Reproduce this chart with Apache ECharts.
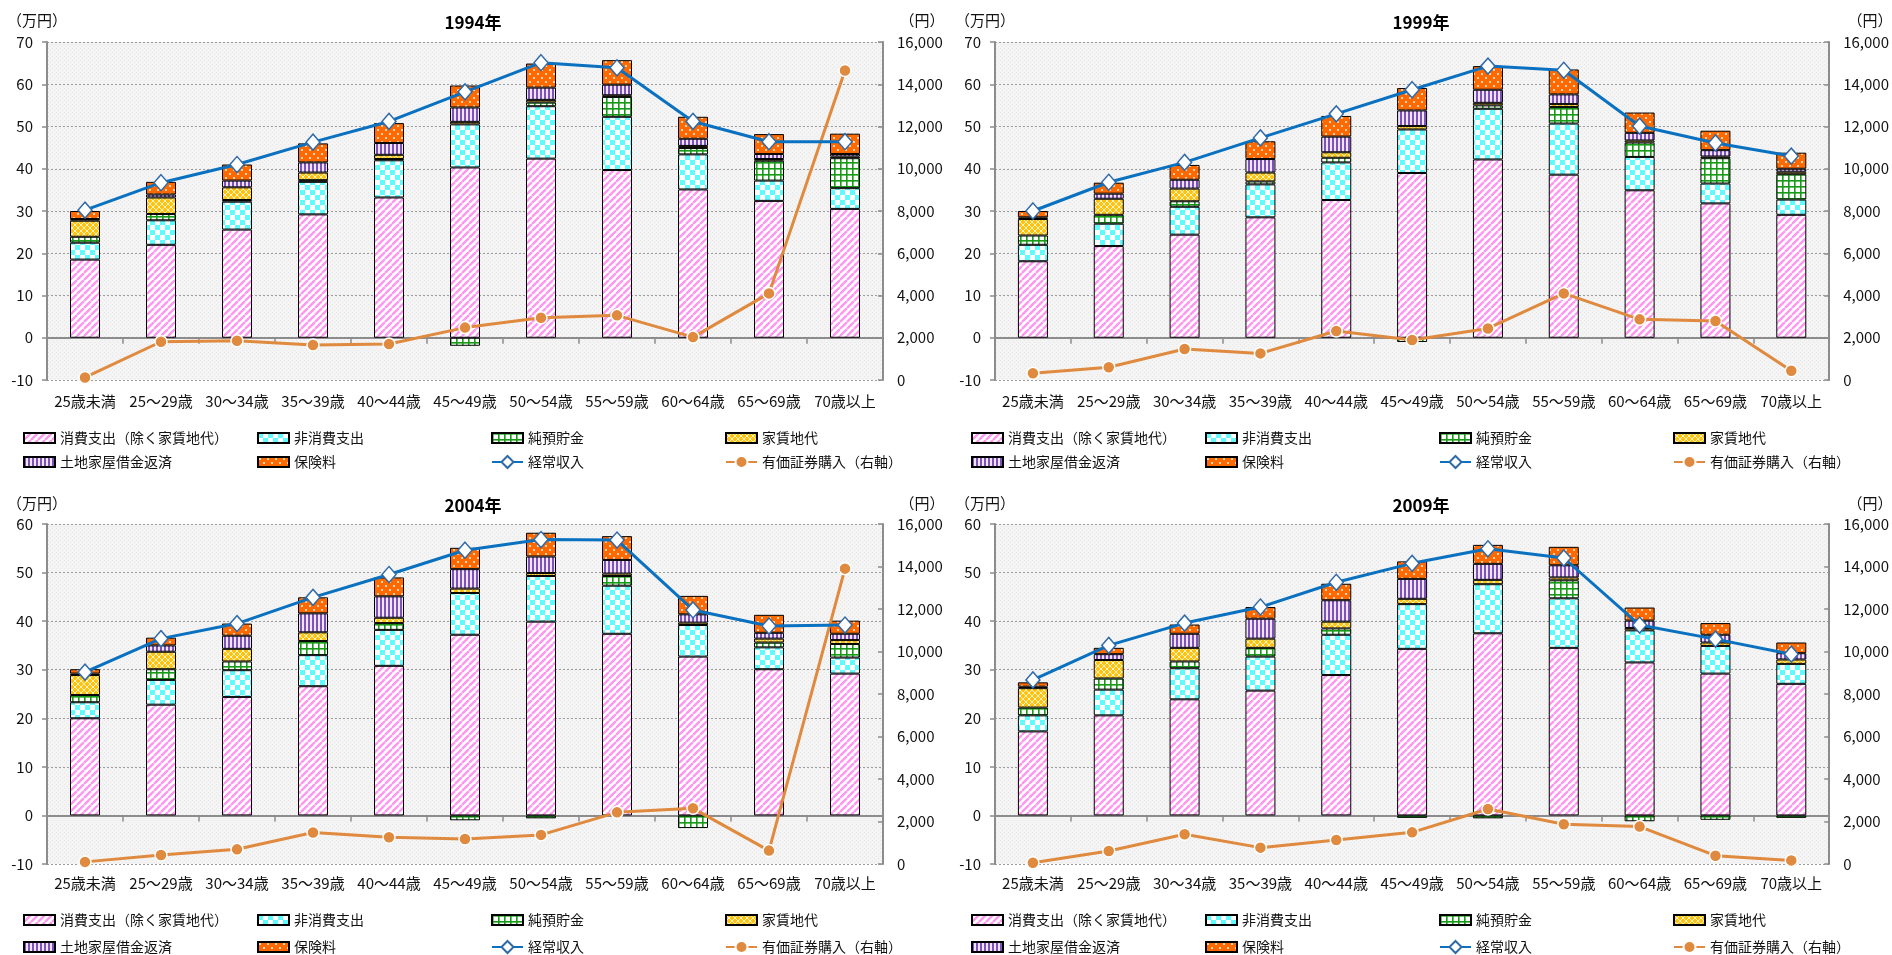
<!DOCTYPE html>
<html>
<head>
<meta charset="utf-8">
<script src="https://cdn.jsdelivr.net/npm/echarts@6/dist/echarts.min.js"></script>
<style>
  html, body { margin: 0; padding: 0; background: #ffffff; }
  #chart { width: 1892px; height: 955px; }
</style>
</head>
<body>
<div id="chart"></div>
<script>
// ---- categories and tick labels ----
const categories = ['25歳未満', '25～29歳', '30～34歳', '35～39歳', '40～44歳', '45～49歳',
  '50～54歳', '55～59歳', '60～64歳', '65～69歳', '70歳以上'];
const yearTitles = ['1994年', '1999年', '2004年', '2009年'];
const leftAxisMax = [70, 70, 60, 60];
const leftAxisMin = -10;
const rightAxisMax = 16000;

// ---- 1994 (万円 / 円) ----
const consumption1994 = [18.5, 22.0, 25.6, 29.2, 33.2, 40.3, 42.4, 39.7, 35.1, 32.4, 30.5];
const nonConsumption1994 = [4.0, 5.8, 6.6, 7.7, 8.8, 10.2, 12.4, 12.6, 8.3, 4.8, 4.9];
const savings1994 = [1.4, 1.5, 0.4, 0.4, 0.3, -1.9, 0.9, 4.7, 1.5, 4.7, 7.1];
const rent1994 = [3.8, 3.9, 3.0, 1.8, 1.0, 0.6, 0.6, 0.4, 0.5, 0.4, 0.4];
const loan1994 = [0.4, 0.7, 1.6, 2.4, 2.8, 3.4, 2.9, 2.5, 1.7, 1.2, 0.6];
const insurance1994 = [1.9, 3.0, 3.8, 4.5, 4.7, 5.2, 5.7, 5.8, 5.2, 4.7, 4.8];
const income1994 = [30.2, 36.7, 41.0, 46.3, 51.2, 58.2, 65.1, 63.9, 51.2, 46.4, 46.4];
const securities1994 = [120, 1810, 1860, 1660, 1700, 2480, 2950, 3060, 2030, 4100, 14650];

// ---- 1999 ----
const consumption1999 = [18.1, 21.7, 24.4, 28.5, 32.6, 39.0, 42.2, 38.6, 34.9, 31.8, 29.1];
const nonConsumption1999 = [3.9, 5.3, 6.6, 7.8, 8.9, 10.3, 12.0, 12.1, 7.9, 4.7, 3.6];
const savings1999 = [2.2, 2.1, 1.3, 0.7, 1.1, -1.0, 0.8, 3.9, 3.4, 6.0, 6.0];
const rent1999 = [3.9, 3.8, 3.0, 2.1, 1.3, 0.8, 0.6, 0.7, 0.5, 0.4, 0.6];
const loan1999 = [0.4, 1.2, 2.1, 3.2, 3.7, 3.7, 3.1, 2.3, 1.8, 1.5, 0.7];
const insurance1999 = [1.5, 2.6, 3.5, 4.2, 4.9, 5.3, 5.6, 5.9, 4.8, 4.6, 3.8];
const income1999 = [30.0, 36.8, 41.5, 47.3, 53.0, 58.7, 64.3, 63.3, 50.1, 46.1, 43.0];
const securities1999 = [320, 600, 1470, 1260, 2320, 1890, 2440, 4100, 2870, 2790, 440];

// ---- 2004 ----
const consumption2004 = [20.0, 22.8, 24.4, 26.6, 30.8, 37.2, 39.9, 37.4, 32.7, 30.1, 29.2];
const nonConsumption2004 = [3.3, 5.1, 5.5, 6.4, 7.4, 8.6, 9.4, 9.9, 6.5, 4.5, 3.3];
const savings2004 = [1.5, 2.2, 1.8, 2.9, 1.4, -1.0, -0.6, 2.0, -2.6, 1.0, 2.8];
const rent2004 = [4.1, 3.6, 2.6, 1.8, 1.1, 0.9, 0.6, 0.5, 0.5, 0.8, 0.8];
const loan2004 = [0.3, 1.3, 2.7, 3.9, 4.4, 4.0, 3.4, 2.8, 1.7, 1.2, 1.3];
const insurance2004 = [0.9, 1.6, 2.5, 3.3, 3.9, 4.4, 4.9, 4.9, 3.8, 3.7, 2.7];
const income2004 = [29.5, 36.4, 39.5, 44.9, 49.6, 54.6, 56.8, 56.7, 42.3, 39.0, 39.2];
const securities2004 = [100, 420, 690, 1480, 1260, 1180, 1370, 2430, 2620, 630, 13900];

// ---- 2009 ----
const consumption2009 = [17.3, 20.6, 23.9, 25.7, 28.9, 34.3, 37.5, 34.5, 31.5, 29.2, 27.1];
const nonConsumption2009 = [3.3, 5.3, 6.4, 7.0, 8.3, 9.2, 10.1, 10.2, 6.6, 5.7, 4.1];
const savings2009 = [1.6, 2.3, 1.4, 1.8, 1.3, -0.5, -0.6, 3.7, -1.2, -0.9, -0.5];
const rent2009 = [4.0, 3.8, 2.8, 1.9, 1.4, 1.1, 0.9, 0.6, 0.5, 0.7, 0.9];
const loan2009 = [0.3, 1.2, 2.9, 4.1, 4.4, 4.1, 3.3, 2.5, 1.5, 1.6, 1.3];
const insurance2009 = [0.9, 1.3, 1.9, 2.4, 3.4, 3.6, 3.9, 3.8, 2.7, 2.4, 2.2];
const income2009 = [27.9, 35.0, 39.6, 42.9, 48.0, 51.9, 54.9, 53.0, 39.2, 36.3, 33.2];
const securities2009 = [60, 610, 1400, 770, 1130, 1490, 2590, 1870, 1760, 390, 170];

const panelData = [
  [consumption1994, nonConsumption1994, savings1994, rent1994, loan1994, insurance1994, income1994, securities1994],
  [consumption1999, nonConsumption1999, savings1999, rent1999, loan1999, insurance1999, income1999, securities1999],
  [consumption2004, nonConsumption2004, savings2004, rent2004, loan2004, insurance2004, income2004, securities2004],
  [consumption2009, nonConsumption2009, savings2009, rent2009, loan2009, insurance2009, income2009, securities2009]
];

// ---- hatch fills drawn on small canvases ----
function tile(w, h, draw) {
  const c = document.createElement('canvas');
  c.width = w; c.height = h;
  draw(c.getContext('2d'), w, h);
  return { image: c, repeat: 'repeat' };
}
const fillPinkStripe = tile(7, 7, (g, w, h) => {
  g.fillStyle = '#ffffff'; g.fillRect(0, 0, w, h);
  g.strokeStyle = '#ff96f0'; g.lineWidth = 2.4; g.beginPath();
  for (let k = -1; k <= 1; k++) { g.moveTo(k * w, h); g.lineTo(k * w + w, 0); }
  g.stroke();
});
const fillCyanChecker = tile(10, 10, (g, w, h) => {
  g.fillStyle = '#ffffff'; g.fillRect(0, 0, w, h);
  g.fillStyle = '#5ffcff'; g.fillRect(0, 0, 5, 5); g.fillRect(5, 5, 5, 5);
});
const fillGreenGrid = tile(6, 6, (g, w, h) => {
  g.fillStyle = '#ffffff'; g.fillRect(0, 0, w, h);
  g.fillStyle = '#179a17'; g.fillRect(0, 0, w, 1.6); g.fillRect(0, 0, 1.6, h);
});
const fillYellowLattice = tile(6, 6, (g, w, h) => {
  g.fillStyle = '#ffc20e'; g.fillRect(0, 0, w, h);
  g.strokeStyle = '#fff3c4'; g.lineWidth = 1; g.beginPath();
  g.moveTo(0, 0); g.lineTo(w, h); g.moveTo(0, h); g.lineTo(w, 0); g.stroke();
});
const fillPurpleStripe = tile(4, 4, (g, w, h) => {
  g.fillStyle = '#efe4fa'; g.fillRect(0, 0, w, h);
  g.fillStyle = '#7e52b8'; g.fillRect(0, 0, 2, h);
});
const fillOrangeDots = tile(8, 8, (g, w, h) => {
  g.fillStyle = '#ff6a00'; g.fillRect(0, 0, w, h);
  g.fillStyle = '#ffffff';
  g.beginPath(); g.arc(2, 2, 0.95, 0, Math.PI * 2); g.fill();
  g.beginPath(); g.arc(6, 6, 0.95, 0, Math.PI * 2); g.fill();
});
// faint texture of the plot area
const fillPlotArea = tile(4, 4, (g, w, h) => {
  g.fillStyle = '#f4f4f4'; g.fillRect(0, 0, w, h);
  g.fillStyle = '#e7e7e7'; g.fillRect(0, 0, 1, 1); g.fillRect(2, 2, 1, 1);
});

const barNames = ['消費支出（除く家賃地代）', '非消費支出', '純預貯金', '家賃地代', '土地家屋借金返済', '保険料'];
const barFills = [fillPinkStripe, fillCyanChecker, fillGreenGrid, fillYellowLattice, fillPurpleStripe, fillOrangeDots];
const incomeName = '経常収入';
const securitiesName = '有価証券購入（右軸）';

const FONT = '"Noto Sans CJK JP", "Noto Sans", sans-serif';
const AXIS_GREY = '#8c8c8c';

// panel frames: plot rectangles in pixels
const panelOffsetX = [0, 948, 0, 948];
const plotTop = [42, 42, 524, 524];
const plotHeight = [338, 338, 340, 340];
const unitY = [20, 20, 503, 503];
const titleY = [23, 23, 506, 506];
const labelMargin = [14, 14, 12, 12];
const legendTop = [430, 430, 912, 912];
const legendRowStep = [24, 24, 27, 27];

const grid = [], xAxis = [], yAxis = [], series = [], legend = [], graphic = [];

for (let i = 0; i < 4; i++) {
  const ox = panelOffsetX[i];
  grid.push({
    left: 47 + ox, top: plotTop[i], width: 836, height: plotHeight[i],
    show: true, backgroundColor: fillPlotArea, borderWidth: 0
  });
  xAxis.push({
    type: 'category', gridIndex: i, data: categories,
    axisLine: { onZero: true, onZeroAxisIndex: 2 * i, lineStyle: { color: AXIS_GREY, width: 2 } },
    axisTick: { show: true, length: 6, lineStyle: { color: AXIS_GREY, width: 1.5 } },
    axisLabel: { interval: 0, margin: labelMargin[i], fontSize: 15, color: '#111', fontFamily: FONT },
    splitLine: { show: false }
  });
  yAxis.push({
    type: 'value', gridIndex: i, position: 'left',
    min: leftAxisMin, max: leftAxisMax[i], interval: 10,
    axisLine: { show: true, lineStyle: { color: AXIS_GREY, width: 2 } },
    axisTick: { show: true, length: 5, lineStyle: { color: AXIS_GREY, width: 1.5 } },
    axisLabel: { fontSize: 15, color: '#111', margin: 14, fontFamily: FONT },
    splitLine: { show: true, lineStyle: { color: '#9c9c9c', width: 1, type: [2, 2] } }
  });
  yAxis.push({
    type: 'value', gridIndex: i, position: 'right',
    min: 0, max: rightAxisMax, interval: 2000,
    axisLine: { show: true, lineStyle: { color: AXIS_GREY, width: 2 } },
    axisTick: { show: true, inside: true, length: 5, lineStyle: { color: AXIS_GREY, width: 1.5 } },
    axisLabel: { fontSize: 15, color: '#111', margin: 14, fontFamily: FONT,
      formatter: v => v.toLocaleString('en-US') },
    splitLine: { show: false }
  });

  const d = panelData[i];
  barNames.forEach((name, k) => {
    series.push({
      type: 'bar', name, xAxisIndex: i, yAxisIndex: 2 * i, stack: 'budget' + i,
      barWidth: 30, data: d[k],
      itemStyle: { color: barFills[k], borderColor: '#000', borderWidth: 1 },
      emphasis: { disabled: true }, z: 2
    });
  });
  series.push({
    type: 'line', name: incomeName, xAxisIndex: i, yAxisIndex: 2 * i, data: d[6],
    symbol: 'diamond', symbolSize: [14, 16],
    lineStyle: { color: '#0a70c0', width: 3 },
    itemStyle: { color: '#ffffff', borderColor: '#2f6aa8', borderWidth: 1.5 },
    emphasis: { disabled: true }, z: 5
  });
  series.push({
    type: 'line', name: securitiesName, xAxisIndex: i, yAxisIndex: 2 * i + 1, data: d[7],
    symbol: 'circle', symbolSize: 12,
    lineStyle: { color: '#df8a3e', width: 3 },
    itemStyle: { color: '#df8a3e', borderColor: '#ffffff', borderWidth: 1.5 },
    emphasis: { disabled: true }, z: 4
  });

  // legend: four columns of two rows, one entry per legend box
  const columns = [
    [barNames[0], barNames[4]],
    [barNames[1], barNames[5]],
    [barNames[2], incomeName],
    [barNames[3], securitiesName]
  ];
  const colX = [23, 257, 491, 725];
  columns.forEach((names, c) => {
    names.forEach((n, r) => {
      const isBar = barNames.includes(n);
      legend.push({
        orient: 'horizontal', left: colX[c] + ox, top: legendTop[i] + r * legendRowStep[i], padding: 0,
        itemWidth: 31, itemHeight: isBar ? 10 : 15, selectedMode: false,
        textStyle: { fontSize: 14, color: '#111', fontFamily: FONT, lineHeight: 16 },
        data: [isBar ? { name: n, icon: 'rect' } : { name: n }]
      });
    });
  });

  // titles and unit captions
  graphic.push({
    type: 'text', x: 473 + ox, y: titleY[i],
    style: { text: yearTitles[i], font: 'bold 17px ' + FONT, fill: '#000',
      align: 'center', verticalAlign: 'middle', textAlign: 'center', textVerticalAlign: 'middle' }
  });
  graphic.push({
    type: 'text', x: 7 + ox, y: unitY[i],
    style: { text: '（万円）', font: '15px ' + FONT, fill: '#111',
      align: 'left', verticalAlign: 'middle', textAlign: 'left', textVerticalAlign: 'middle' }
  });
  graphic.push({
    type: 'text', x: 922 + ox, y: unitY[i],
    style: { text: '（円）', font: '15px ' + FONT, fill: '#111',
      align: 'center', verticalAlign: 'middle', textAlign: 'center', textVerticalAlign: 'middle' }
  });
}

const chart = echarts.init(document.getElementById('chart'), null, { renderer: 'canvas' });
chart.setOption({
  animation: false,
  backgroundColor: '#ffffff',
  textStyle: { fontFamily: FONT },
  grid, xAxis, yAxis, series, legend, graphic
});
</script>
</body>
</html>
